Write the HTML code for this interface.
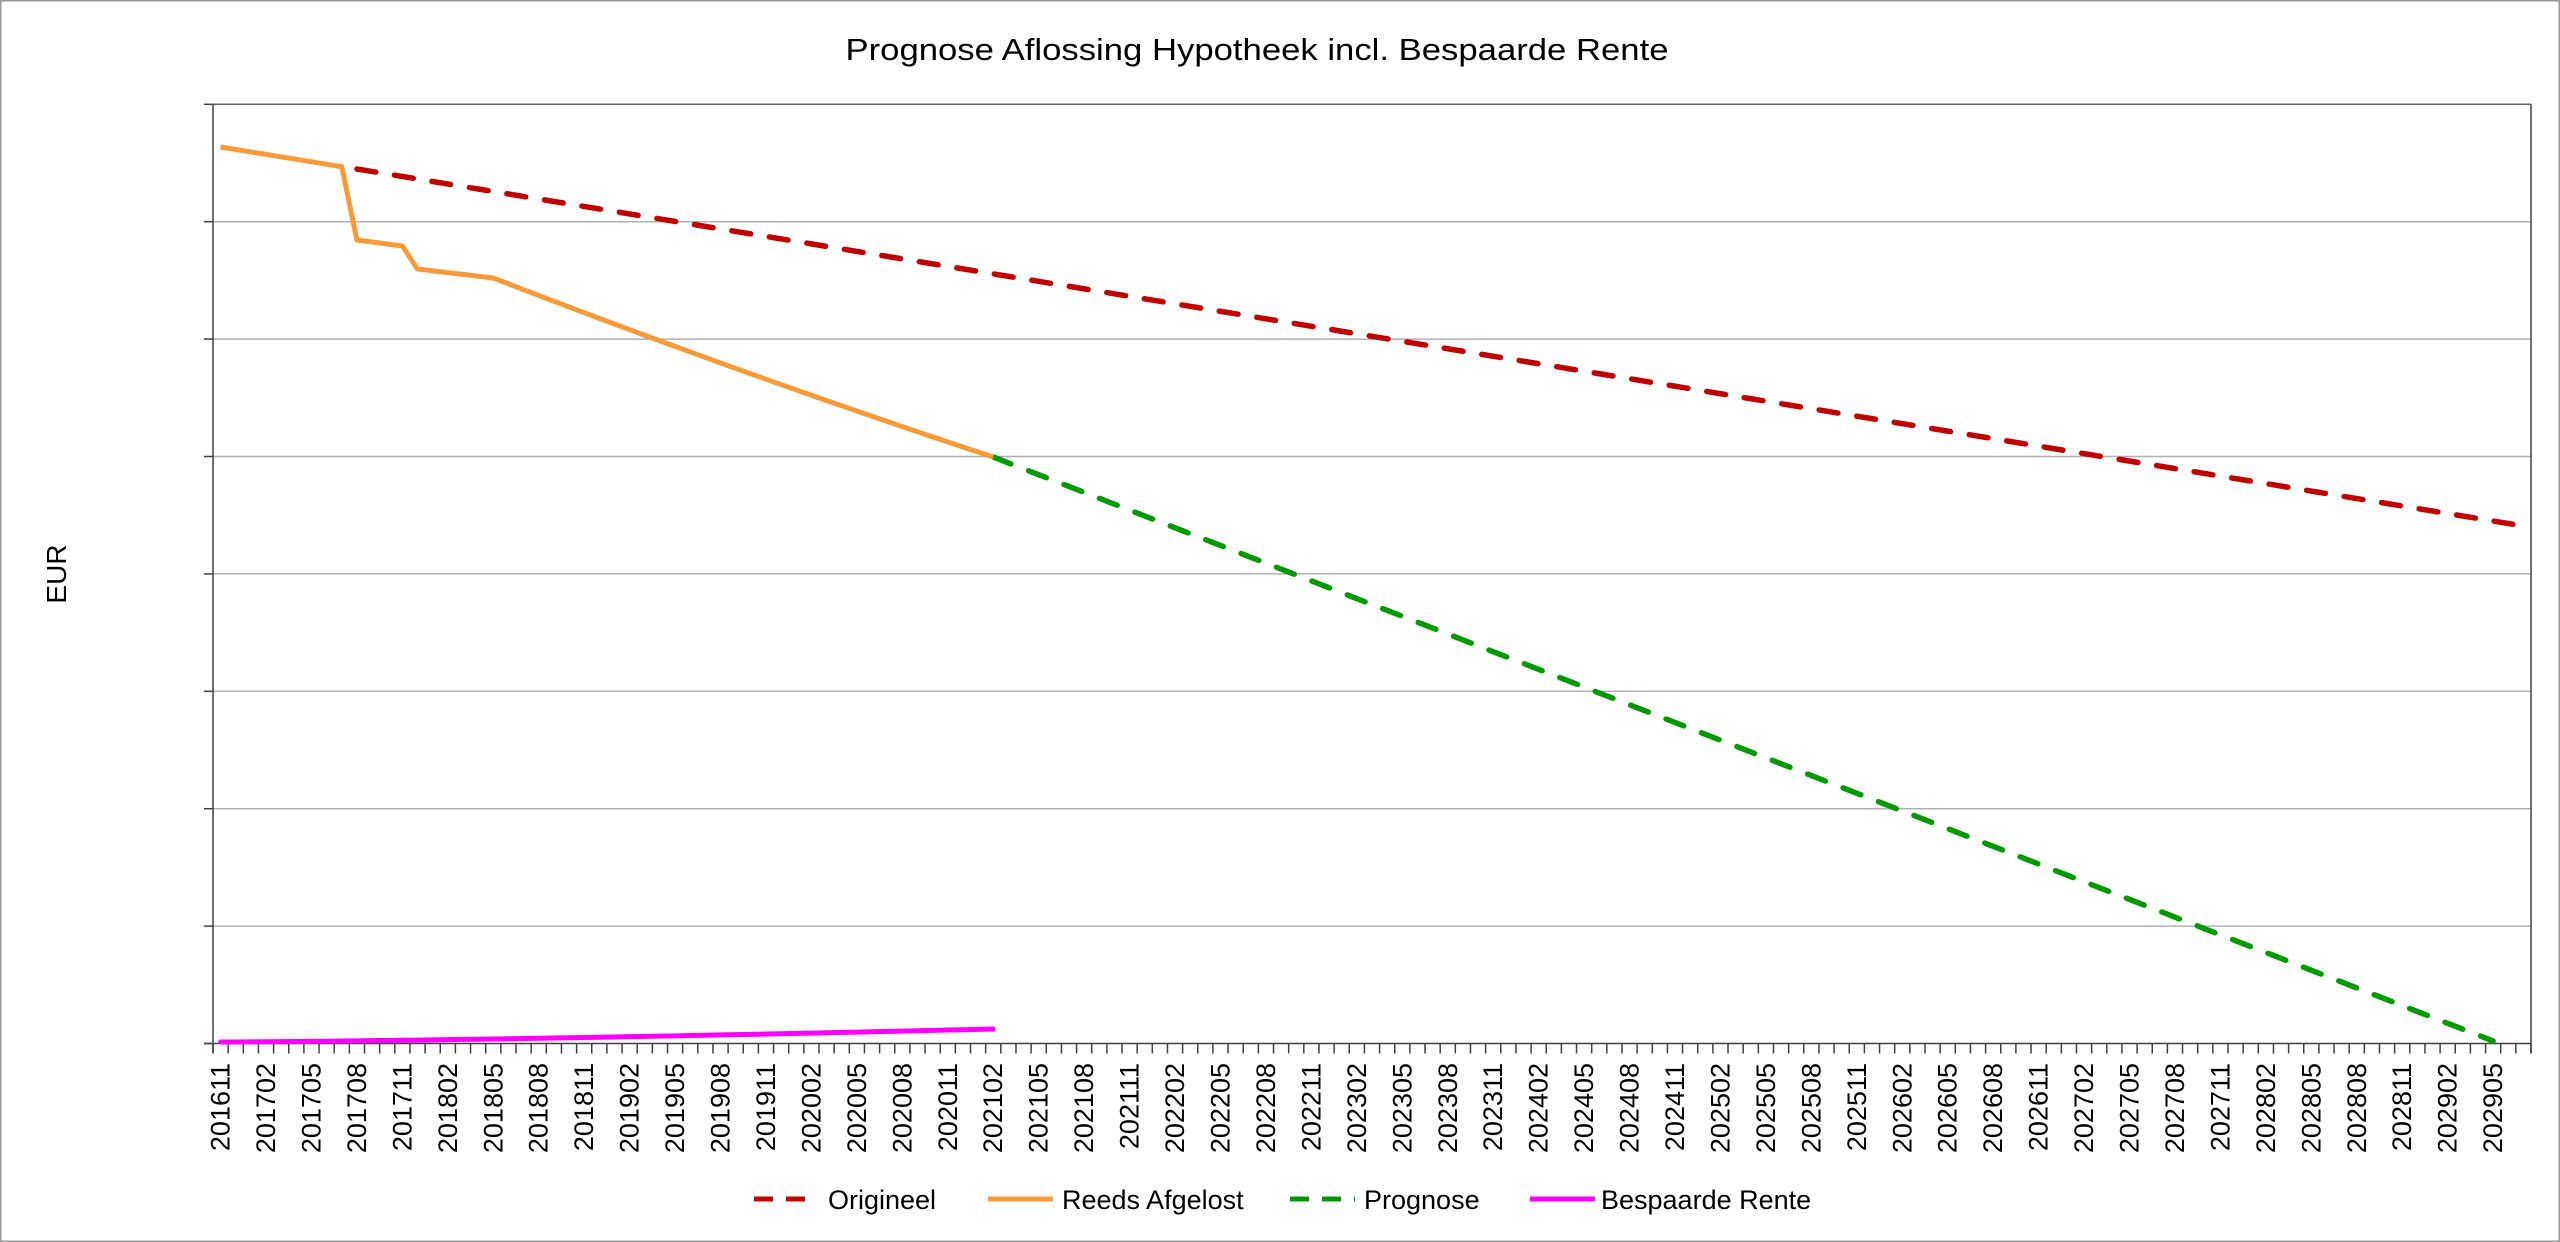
<!DOCTYPE html>
<html><head><meta charset="utf-8"><style>
html,body{margin:0;padding:0;background:#fff;}
svg{display:block;font-family:"Liberation Sans",sans-serif;}
</style></head><body>
<svg id="s" width="2560" height="1242" viewBox="0 0 2560 1242" xmlns="http://www.w3.org/2000/svg">
<rect x="0.5" y="0.5" width="2559" height="1241" fill="#fff" stroke="#999" stroke-width="2"/>
<text x="1257" y="60" font-size="31" text-anchor="middle" textLength="823" lengthAdjust="spacingAndGlyphs" fill="#000">Prognose Aflossing Hypotheek incl. Bespaarde Rente</text>
<text transform="translate(66,574) rotate(-90)" font-size="28" text-anchor="middle" fill="#000">EUR</text>
<g id="grid"></g>
<g id="series"></g>
<g font-size="27" fill="#000">
<line x1="754" y1="1199" x2="816" y2="1199" stroke="#c00000" stroke-width="5" stroke-dasharray="19,13"/>
<text x="828" y="1209">Origineel</text>
<line x1="988" y1="1199" x2="1053" y2="1199" stroke="#f79b3a" stroke-width="5"/>
<text x="1062" y="1209">Reeds Afgelost</text>
<line x1="1290" y1="1199" x2="1355" y2="1199" stroke="#009a00" stroke-width="5" stroke-dasharray="19,13"/>
<text x="1364" y="1209">Prognose</text>
<line x1="1530" y1="1199" x2="1595" y2="1199" stroke="#ff00ff" stroke-width="5"/>
<text x="1601" y="1209">Bespaarde Rente</text>
</g>
</svg>
<script>
(function(){
var NS="http://www.w3.org/2000/svg";
var g=document.getElementById('grid'), se=document.getElementById('series');
function el(p,tag,a,txt){var e=document.createElementNS(NS,tag);for(var k in a)e.setAttribute(k,a[k]);if(txt)e.textContent=txt;p.appendChild(e);return e;}
var L=213,R=2531,T=104.3,B=1043.5,N=153,w=(R-L)/N,gs=(B-T)/8;
for(var i=1;i<8;i++){var y=T+i*gs;el(g,'line',{x1:L,y1:y,x2:R,y2:y,stroke:'#b0b0b0','stroke-width':1.5});}
for(var i=0;i<=8;i++){var y=T+i*gs;el(g,'line',{x1:204,y1:y,x2:L,y2:y,stroke:'#404040','stroke-width':1.5});}
el(g,'line',{x1:L,y1:T,x2:R,y2:T,stroke:'#606060','stroke-width':1.5});
el(g,'line',{x1:R,y1:T,x2:R,y2:B+10,stroke:'#404040','stroke-width':1.5});
el(g,'line',{x1:L,y1:T,x2:L,y2:B+10,stroke:'#404040','stroke-width':1.5});
el(g,'line',{x1:204,y1:B,x2:R,y2:B,stroke:'#404040','stroke-width':1.5});
for(var i=0;i<=N;i++){var x=L+i*w;el(g,'line',{x1:x,y1:B,x2:x,y2:B+10,stroke:'#404040','stroke-width':1.5});}
for(var i=0;i<N;i+=3){
  var m=10+i; var yr=2016+Math.floor(m/12); var mo=(m%12)+1;
  var lab=''+yr+(mo<10?'0':'')+mo; var x=L+w*(i+0.5);
  el(g,'text',{transform:'translate('+x+',1063) rotate(-90)','font-size':27,'text-anchor':'end','dominant-baseline':'central',fill:'#000'},lab);
}
function cx(i){return L+w*(i+0.5);}
el(se,'line',{x1:cx(9),y1:169,x2:cx(152),y2:526,stroke:'#c00000','stroke-width':5.5,'stroke-dasharray':'19,19','stroke-linecap':'round'});
el(se,'line',{x1:cx(51),y1:457,x2:cx(150),y2:1041,stroke:'#009a00','stroke-width':5.5,'stroke-dasharray':'19,19','stroke-linecap':'round'});
var pts=[[0,147],[8,166.7],[9,240],[12,246],[13,269],[18,278]];
for(var i=19;i<=51;i++){var t=(i-18)/33;pts.push([i,278+179*(t*1.08-0.08*t*t)]);}
el(se,'polyline',{points:pts.map(function(p){return cx(p[0])+','+p[1];}).join(' '),fill:'none',stroke:'#f79b3a','stroke-width':5,'stroke-linejoin':'round'});
var mp=[];for(var i=0;i<=51;i++){mp.push(cx(i)+','+(1042-13*Math.pow(i/51,1.4)));}
el(se,'polyline',{points:mp.join(' '),fill:'none',stroke:'#ff00ff','stroke-width':5,'stroke-linecap':'round'});
})();
</script>
</body></html>
